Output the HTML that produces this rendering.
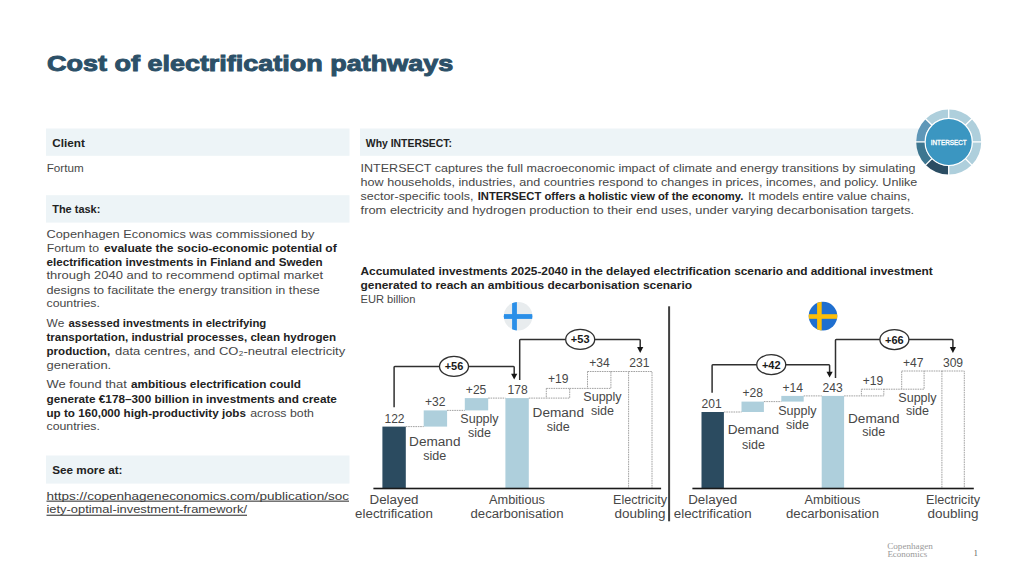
<!DOCTYPE html>
<html><head><meta charset="utf-8"><title>Cost of electrification pathways</title>
<style>html,body{margin:0;padding:0;background:#fff;width:1024px;height:576px;overflow:hidden}svg{display:block}text{font-family:"Liberation Sans", sans-serif}</style>
</head><body>
<svg width="1024" height="576" viewBox="0 0 1024 576">
<text x="47.0" y="70.6" font-size="22" font-weight="700" fill="#2c5068" stroke="#2c5068" stroke-width="0.95" textLength="406.2" lengthAdjust="spacingAndGlyphs">Cost of electrification pathways</text>
<rect x="46" y="128.5" width="303.5" height="27.3" fill="#edf4f7"/>
<rect x="46" y="195.2" width="303.5" height="27.4" fill="#edf4f7"/>
<rect x="46" y="455.5" width="303.5" height="28.1" fill="#edf4f7"/>
<rect x="360" y="128.5" width="580" height="27.3" fill="#edf4f7"/>
<text x="52.3" y="146.9" font-size="11.3" fill="#474747" textLength="32.5" lengthAdjust="spacingAndGlyphs"><tspan font-weight="700" fill="#222222">Client</tspan></text>
<text x="52.2" y="213.4" font-size="11.3" fill="#474747" textLength="48.2" lengthAdjust="spacingAndGlyphs"><tspan font-weight="700" fill="#222222">The task:</tspan></text>
<text x="52.2" y="474.2" font-size="11.3" fill="#474747" textLength="70.3" lengthAdjust="spacingAndGlyphs"><tspan font-weight="700" fill="#222222">See more at:</tspan></text>
<text x="365.8" y="146.9" font-size="11.3" fill="#474747" textLength="86.2" lengthAdjust="spacingAndGlyphs"><tspan font-weight="700" fill="#222222">Why INTERSECT:</tspan></text>
<text x="46.7" y="172" font-size="11" fill="#474747" textLength="37.0" lengthAdjust="spacingAndGlyphs"><tspan>Fortum</tspan></text>
<text x="46.5" y="237.7" font-size="11" fill="#474747" textLength="267.9" lengthAdjust="spacingAndGlyphs"><tspan>Copenhagen Economics was commissioned by</tspan></text>
<text x="46.7" y="251.6" font-size="11" fill="#474747" textLength="52.4" lengthAdjust="spacingAndGlyphs">Fortum to</text>
<text x="104.0" y="251.6" font-size="11" font-weight="700" fill="#222222" textLength="232.7" lengthAdjust="spacingAndGlyphs">evaluate the socio-economic potential of</text>
<text x="46.5" y="265.5" font-size="11" fill="#474747" textLength="276.2" lengthAdjust="spacingAndGlyphs"><tspan font-weight="700" fill="#222222">electrification investments in Finland and Sweden</tspan></text>
<text x="46.5" y="279.4" font-size="11" fill="#474747" textLength="276.5" lengthAdjust="spacingAndGlyphs"><tspan>through 2040 and to recommend optimal market</tspan></text>
<text x="46.5" y="293.5" font-size="11" fill="#474747" textLength="273.3" lengthAdjust="spacingAndGlyphs"><tspan>designs to facilitate the energy transition in these</tspan></text>
<text x="46.5" y="307.4" font-size="11" fill="#474747" textLength="53.4" lengthAdjust="spacingAndGlyphs"><tspan>countries.</tspan></text>
<text x="46.6" y="327.2" font-size="11" fill="#474747" textLength="17.7" lengthAdjust="spacingAndGlyphs">We</text>
<text x="68.5" y="327.2" font-size="11" font-weight="700" fill="#222222" textLength="197.8" lengthAdjust="spacingAndGlyphs">assessed investments in electrifying</text>
<text x="46.5" y="341.1" font-size="11" fill="#474747" textLength="289.5" lengthAdjust="spacingAndGlyphs"><tspan font-weight="700" fill="#222222">transportation, industrial processes, clean hydrogen</tspan></text>
<text x="46.5" y="354.7" font-size="11" font-weight="700" fill="#222222" textLength="63.6" lengthAdjust="spacingAndGlyphs">production,</text>
<text x="115.0" y="354.7" font-size="11" fill="#474747" textLength="230.2" lengthAdjust="spacingAndGlyphs">data centres, and CO₂-neutral electricity</text>
<text x="46.5" y="368.9" font-size="11" fill="#474747" textLength="64.7" lengthAdjust="spacingAndGlyphs"><tspan>generation.</tspan></text>
<text x="46.6" y="388.2" font-size="11" fill="#474747" textLength="80.2" lengthAdjust="spacingAndGlyphs">We found that</text>
<text x="131.0" y="388.2" font-size="11" font-weight="700" fill="#222222" textLength="170.0" lengthAdjust="spacingAndGlyphs">ambitious electrification could</text>
<text x="46.5" y="402.6" font-size="11" fill="#474747" textLength="290.4" lengthAdjust="spacingAndGlyphs"><tspan font-weight="700" fill="#222222">generate €178–300 billion in investments and create</tspan></text>
<text x="46.5" y="416.5" font-size="11" font-weight="700" fill="#222222" textLength="199.4" lengthAdjust="spacingAndGlyphs">up to 160,000 high-productivity jobs</text>
<text x="250.2" y="416.5" font-size="11" fill="#474747" textLength="63.8" lengthAdjust="spacingAndGlyphs">across both</text>
<text x="46.5" y="430.4" font-size="11" fill="#474747" textLength="53.4" lengthAdjust="spacingAndGlyphs"><tspan>countries.</tspan></text>
<text x="46.5" y="499.7" font-size="11" fill="#3c3c3c" textLength="302.5" lengthAdjust="spacingAndGlyphs"><tspan>https://copenhageneconomics.com/publication/soc</tspan></text>
<text x="46.5" y="513.4" font-size="11" fill="#3c3c3c" textLength="200.5" lengthAdjust="spacingAndGlyphs"><tspan>iety-optimal-investment-framework/</tspan></text>
<rect x="46.5" y="500.6" width="302.5" height="1.1" fill="#3a3a3a"/>
<rect x="46.5" y="514.7" width="200.5" height="1.1" fill="#3a3a3a"/>
<text x="360.6" y="172.2" font-size="11" fill="#474747" textLength="554.8" lengthAdjust="spacingAndGlyphs"><tspan>INTERSECT captures the full macroeconomic impact of climate and energy transitions by simulating</tspan></text>
<text x="360.6" y="186.25" font-size="11" fill="#474747" textLength="556.7" lengthAdjust="spacingAndGlyphs"><tspan>how households, industries, and countries respond to changes in prices, incomes, and policy. Unlike</tspan></text>
<text x="360.6" y="200.3" font-size="11" fill="#474747" textLength="112.8" lengthAdjust="spacingAndGlyphs">sector-specific tools,</text>
<text x="477.7" y="200.3" font-size="11" font-weight="700" fill="#222222" textLength="265.6" lengthAdjust="spacingAndGlyphs">INTERSECT offers a holistic view of the economy.</text>
<text x="748.0" y="200.3" font-size="11" fill="#474747" textLength="162.2" lengthAdjust="spacingAndGlyphs">It models entire value chains,</text>
<text x="360.6" y="214.2" font-size="11" fill="#474747" textLength="553.6" lengthAdjust="spacingAndGlyphs"><tspan>from electricity and hydrogen production to their end uses, under varying decarbonisation targets.</tspan></text>
<text x="360.5" y="274.5" font-size="11" fill="#474747" textLength="572.3" lengthAdjust="spacingAndGlyphs"><tspan font-weight="700" fill="#222222">Accumulated investments 2025-2040 in the delayed electrification scenario and additional investment</tspan></text>
<text x="360.5" y="288.6" font-size="11" fill="#474747" textLength="331.5" lengthAdjust="spacingAndGlyphs"><tspan font-weight="700" fill="#222222">generated to reach an ambitious decarbonisation scenario</tspan></text>
<text x="360.5" y="302.5" font-size="11" fill="#474747" textLength="55.0" lengthAdjust="spacingAndGlyphs"><tspan>EUR billion</tspan></text>
<path d="M948.70,109.40 A32.5,32.5 0 0 1 971.68,118.92 L965.53,125.07 A23.8,23.8 0 0 0 948.70,118.10 Z" fill="#aecfdc"/>
<path d="M971.68,118.92 A32.5,32.5 0 0 1 981.20,141.90 L972.50,141.90 A23.8,23.8 0 0 0 965.53,125.07 Z" fill="#aecfdc"/>
<path d="M981.20,141.90 A32.5,32.5 0 0 1 971.68,164.88 L965.53,158.73 A23.8,23.8 0 0 0 972.50,141.90 Z" fill="#aecfdc"/>
<path d="M971.68,164.88 A32.5,32.5 0 0 1 948.70,174.40 L948.70,165.70 A23.8,23.8 0 0 0 965.53,158.73 Z" fill="#aecfdc"/>
<path d="M948.70,174.40 A32.5,32.5 0 0 1 925.72,164.88 L931.87,158.73 A23.8,23.8 0 0 0 948.70,165.70 Z" fill="#2b4d63"/>
<path d="M925.72,164.88 A32.5,32.5 0 0 1 916.20,141.90 L924.90,141.90 A23.8,23.8 0 0 0 931.87,158.73 Z" fill="#3d7690"/>
<path d="M916.20,141.90 A32.5,32.5 0 0 1 925.72,118.92 L931.87,125.07 A23.8,23.8 0 0 0 924.90,141.90 Z" fill="#5f97b8"/>
<path d="M925.72,118.92 A32.5,32.5 0 0 1 948.70,109.40 L948.70,118.10 A23.8,23.8 0 0 0 931.87,125.07 Z" fill="#aecfdc"/>
<line x1="948.70" y1="118.10" x2="948.70" y2="108.40" stroke="#fff" stroke-width="1.3"/>
<line x1="965.53" y1="125.07" x2="972.39" y2="118.21" stroke="#fff" stroke-width="1.3"/>
<line x1="972.50" y1="141.90" x2="982.20" y2="141.90" stroke="#fff" stroke-width="1.3"/>
<line x1="965.53" y1="158.73" x2="972.39" y2="165.59" stroke="#fff" stroke-width="1.3"/>
<line x1="948.70" y1="165.70" x2="948.70" y2="175.40" stroke="#fff" stroke-width="1.3"/>
<line x1="931.87" y1="158.73" x2="925.01" y2="165.59" stroke="#fff" stroke-width="1.3"/>
<line x1="924.90" y1="141.90" x2="915.20" y2="141.90" stroke="#fff" stroke-width="1.3"/>
<line x1="931.87" y1="125.07" x2="925.01" y2="118.21" stroke="#fff" stroke-width="1.3"/>
<circle cx="948.7" cy="141.9" r="23.6" fill="#3b96c1" stroke="#fff" stroke-width="1.2"/>
<text x="948.7" y="144.5" font-size="7.4" fill="#fff" stroke="#fff" stroke-width="0.35" text-anchor="middle" textLength="36" lengthAdjust="spacingAndGlyphs">INTERSECT</text>
<rect x="382.40" y="426.60" width="23.40" height="61.90" fill="#2b4b60"/>
<rect x="423.70" y="410.40" width="23.40" height="16.20" fill="#aecfdc"/>
<rect x="464.80" y="398.10" width="23.40" height="12.30" fill="#aecfdc"/>
<rect x="505.40" y="398.10" width="23.40" height="90.40" fill="#aecfdc"/>
<line x1="405.80" y1="426.60" x2="423.70" y2="426.60" stroke="#8a8a8a" stroke-width="0.8" stroke-dasharray="1.6,0.8"/>
<line x1="447.10" y1="410.40" x2="464.80" y2="410.40" stroke="#8a8a8a" stroke-width="0.8" stroke-dasharray="1.6,0.8"/>
<line x1="488.20" y1="398.10" x2="505.40" y2="398.10" stroke="#8a8a8a" stroke-width="0.8" stroke-dasharray="1.6,0.8"/>
<rect x="546.30" y="388.40" width="23.40" height="9.70" fill="none" stroke="#8a8a8a" stroke-width="0.8" stroke-dasharray="1.6,0.8"/>
<line x1="528.80" y1="398.10" x2="546.30" y2="398.10" stroke="#8a8a8a" stroke-width="0.8" stroke-dasharray="1.6,0.8"/>
<line x1="569.70" y1="388.40" x2="587.50" y2="388.40" stroke="#8a8a8a" stroke-width="0.8" stroke-dasharray="1.6,0.8"/>
<rect x="587.50" y="371.50" width="23.40" height="16.90" fill="none" stroke="#8a8a8a" stroke-width="0.8" stroke-dasharray="1.6,0.8"/>
<line x1="610.90" y1="371.50" x2="628.60" y2="371.50" stroke="#8a8a8a" stroke-width="0.8" stroke-dasharray="1.6,0.8"/>
<rect x="628.60" y="371.50" width="23.40" height="117.00" fill="none" stroke="#8a8a8a" stroke-width="0.8" stroke-dasharray="1.6,0.8"/>
<rect x="373.4" y="487.7" width="287.7" height="1.6" fill="#1a1a1a"/>
<text x="394.5" y="422.5" font-size="12.1" fill="#474747" text-anchor="middle">122</text>
<text x="435.2" y="406.1" font-size="12.1" fill="#474747" text-anchor="middle">+32</text>
<text x="476.1" y="393.9" font-size="12.1" fill="#474747" text-anchor="middle">+25</text>
<text x="517.6" y="393.9" font-size="12.1" fill="#474747" text-anchor="middle">178</text>
<text x="558.3" y="382.8" font-size="12.1" fill="#474747" text-anchor="middle">+19</text>
<text x="599.4" y="366.9" font-size="12.1" fill="#474747" text-anchor="middle">+34</text>
<text x="639.3" y="366.9" font-size="12.1" fill="#474747" text-anchor="middle">231</text>
<text x="434.8" y="445.9" font-size="12" fill="#474747" text-anchor="middle" textLength="51.4" lengthAdjust="spacingAndGlyphs">Demand</text>
<text x="434.8" y="459.5" font-size="12" fill="#474747" text-anchor="middle" textLength="23.0" lengthAdjust="spacingAndGlyphs">side</text>
<text x="479.5" y="423.3" font-size="12" fill="#474747" text-anchor="middle" textLength="38.3" lengthAdjust="spacingAndGlyphs">Supply</text>
<text x="479.5" y="436.9" font-size="12" fill="#474747" text-anchor="middle" textLength="23.0" lengthAdjust="spacingAndGlyphs">side</text>
<text x="558.3" y="417.2" font-size="12" fill="#474747" text-anchor="middle" textLength="51.4" lengthAdjust="spacingAndGlyphs">Demand</text>
<text x="558.3" y="431.1" font-size="12" fill="#474747" text-anchor="middle" textLength="23.0" lengthAdjust="spacingAndGlyphs">side</text>
<text x="602.5" y="400.8" font-size="12" fill="#474747" text-anchor="middle" textLength="38.3" lengthAdjust="spacingAndGlyphs">Supply</text>
<text x="602.5" y="414.6" font-size="12" fill="#474747" text-anchor="middle" textLength="23.0" lengthAdjust="spacingAndGlyphs">side</text>
<text x="394.0" y="503.8" font-size="12" fill="#474747" text-anchor="middle" textLength="49.0" lengthAdjust="spacingAndGlyphs">Delayed</text>
<text x="394.0" y="517.9" font-size="12" fill="#474747" text-anchor="middle" textLength="77.8" lengthAdjust="spacingAndGlyphs">electrification</text>
<text x="517.0" y="503.8" font-size="12" fill="#474747" text-anchor="middle" textLength="56.0" lengthAdjust="spacingAndGlyphs">Ambitious</text>
<text x="517.0" y="517.9" font-size="12" fill="#474747" text-anchor="middle" textLength="93.0" lengthAdjust="spacingAndGlyphs">decarbonisation</text>
<text x="640.0" y="503.8" font-size="12" fill="#474747" text-anchor="middle" textLength="54.0" lengthAdjust="spacingAndGlyphs">Electricity</text>
<text x="640.0" y="517.9" font-size="12" fill="#474747" text-anchor="middle" textLength="51.0" lengthAdjust="spacingAndGlyphs">doubling</text>
<path d="M394.1,407.3 L394.1,367.25 Q394.1,366.45 394.90000000000003,366.45 L513.4000000000001,366.45 Q514.2,366.45 514.2,367.25 L514.2,374.6" fill="none" stroke="#303030" stroke-width="1.5"/>
<path d="M511.1,373.8 L517.3000000000001,373.8 L514.2,379.6 Z" fill="#151515"/>
<ellipse cx="454.0" cy="366.45" rx="14.5" ry="10" fill="#fff" stroke="#303030" stroke-width="1.3"/>
<text x="454.0" y="370.45" font-size="11" font-weight="700" fill="#1a1a1a" text-anchor="middle">+56</text>
<path d="M519.7,380.0 L519.7,340.2 Q519.7,339.4 520.5,339.4 L639.4000000000001,339.4 Q640.2,339.4 640.2,340.2 L640.2,347.9" fill="none" stroke="#303030" stroke-width="1.5"/>
<path d="M637.1,347.09999999999997 L643.3000000000001,347.09999999999997 L640.2,352.9 Z" fill="#151515"/>
<ellipse cx="580.2" cy="339.4" rx="14.5" ry="10" fill="#fff" stroke="#303030" stroke-width="1.3"/>
<text x="580.2" y="343.4" font-size="11" font-weight="700" fill="#1a1a1a" text-anchor="middle">+53</text>
<rect x="668.10" y="306.30" width="2.00" height="215.00" fill="#404040"/>
<rect x="701.50" y="412.00" width="22.40" height="76.50" fill="#2b4b60"/>
<rect x="741.50" y="401.60" width="22.40" height="10.40" fill="#aecfdc"/>
<rect x="781.30" y="395.90" width="22.40" height="5.70" fill="#aecfdc"/>
<rect x="821.70" y="395.90" width="22.40" height="92.60" fill="#aecfdc"/>
<line x1="723.90" y1="412.00" x2="741.50" y2="412.00" stroke="#8a8a8a" stroke-width="0.8" stroke-dasharray="1.6,0.8"/>
<line x1="763.90" y1="401.60" x2="781.30" y2="401.60" stroke="#8a8a8a" stroke-width="0.8" stroke-dasharray="1.6,0.8"/>
<line x1="803.70" y1="395.90" x2="821.70" y2="395.90" stroke="#8a8a8a" stroke-width="0.8" stroke-dasharray="1.6,0.8"/>
<rect x="861.40" y="389.20" width="22.40" height="6.70" fill="none" stroke="#8a8a8a" stroke-width="0.8" stroke-dasharray="1.6,0.8"/>
<line x1="844.10" y1="395.90" x2="861.40" y2="395.90" stroke="#8a8a8a" stroke-width="0.8" stroke-dasharray="1.6,0.8"/>
<line x1="883.80" y1="389.20" x2="901.70" y2="389.20" stroke="#8a8a8a" stroke-width="0.8" stroke-dasharray="1.6,0.8"/>
<rect x="901.70" y="371.00" width="22.40" height="18.20" fill="none" stroke="#8a8a8a" stroke-width="0.8" stroke-dasharray="1.6,0.8"/>
<line x1="924.10" y1="371.00" x2="941.90" y2="371.00" stroke="#8a8a8a" stroke-width="0.8" stroke-dasharray="1.6,0.8"/>
<rect x="941.90" y="371.00" width="22.40" height="117.50" fill="none" stroke="#8a8a8a" stroke-width="0.8" stroke-dasharray="1.6,0.8"/>
<rect x="692.4" y="487.7" width="281.4" height="1.6" fill="#1a1a1a"/>
<text x="711.6" y="408.1" font-size="12.1" fill="#474747" text-anchor="middle">201</text>
<text x="752.7" y="397.3" font-size="12.1" fill="#474747" text-anchor="middle">+28</text>
<text x="792.8" y="392.0" font-size="12.1" fill="#474747" text-anchor="middle">+14</text>
<text x="832.7" y="392.1" font-size="12.1" fill="#474747" text-anchor="middle">243</text>
<text x="873.0" y="384.7" font-size="12.1" fill="#474747" text-anchor="middle">+19</text>
<text x="913.2" y="367.0" font-size="12.1" fill="#474747" text-anchor="middle">+47</text>
<text x="953.0" y="367.0" font-size="12.1" fill="#474747" text-anchor="middle">309</text>
<text x="753.4" y="434.2" font-size="12" fill="#474747" text-anchor="middle" textLength="51.4" lengthAdjust="spacingAndGlyphs">Demand</text>
<text x="753.4" y="448.5" font-size="12" fill="#474747" text-anchor="middle" textLength="23.0" lengthAdjust="spacingAndGlyphs">side</text>
<text x="797.4" y="415.0" font-size="12" fill="#474747" text-anchor="middle" textLength="38.3" lengthAdjust="spacingAndGlyphs">Supply</text>
<text x="797.4" y="428.6" font-size="12" fill="#474747" text-anchor="middle" textLength="23.0" lengthAdjust="spacingAndGlyphs">side</text>
<text x="873.75" y="422.6" font-size="12" fill="#474747" text-anchor="middle" textLength="51.4" lengthAdjust="spacingAndGlyphs">Demand</text>
<text x="873.75" y="436.2" font-size="12" fill="#474747" text-anchor="middle" textLength="23.0" lengthAdjust="spacingAndGlyphs">side</text>
<text x="917.5" y="401.5" font-size="12" fill="#474747" text-anchor="middle" textLength="38.3" lengthAdjust="spacingAndGlyphs">Supply</text>
<text x="917.5" y="415.2" font-size="12" fill="#474747" text-anchor="middle" textLength="23.0" lengthAdjust="spacingAndGlyphs">side</text>
<text x="712.7" y="503.8" font-size="12" fill="#474747" text-anchor="middle" textLength="49.0" lengthAdjust="spacingAndGlyphs">Delayed</text>
<text x="712.7" y="517.9" font-size="12" fill="#474747" text-anchor="middle" textLength="77.8" lengthAdjust="spacingAndGlyphs">electrification</text>
<text x="832.5" y="503.8" font-size="12" fill="#474747" text-anchor="middle" textLength="56.0" lengthAdjust="spacingAndGlyphs">Ambitious</text>
<text x="832.5" y="517.9" font-size="12" fill="#474747" text-anchor="middle" textLength="93.0" lengthAdjust="spacingAndGlyphs">decarbonisation</text>
<text x="953.0" y="503.8" font-size="12" fill="#474747" text-anchor="middle" textLength="54.0" lengthAdjust="spacingAndGlyphs">Electricity</text>
<text x="953.0" y="517.9" font-size="12" fill="#474747" text-anchor="middle" textLength="51.0" lengthAdjust="spacingAndGlyphs">doubling</text>
<path d="M712.1,392.7 L712.1,365.45 Q712.1,364.65 712.9,364.65 L828.8000000000001,364.65 Q829.6,364.65 829.6,365.45 L829.6,372.5" fill="none" stroke="#303030" stroke-width="1.5"/>
<path d="M826.5,371.7 L832.7,371.7 L829.6,377.5 Z" fill="#151515"/>
<ellipse cx="771.25" cy="364.65" rx="14.5" ry="10" fill="#fff" stroke="#303030" stroke-width="1.3"/>
<text x="771.25" y="368.65" font-size="11" font-weight="700" fill="#1a1a1a" text-anchor="middle">+42</text>
<path d="M835.5,378.0 L835.5,340.35 Q835.5,339.55 836.3,339.55 L952.1,339.55 Q952.9,339.55 952.9,340.35 L952.9,347.9" fill="none" stroke="#303030" stroke-width="1.5"/>
<path d="M949.8,347.09999999999997 L956.0,347.09999999999997 L952.9,352.9 Z" fill="#151515"/>
<ellipse cx="894.4" cy="339.55" rx="14.5" ry="10" fill="#fff" stroke="#303030" stroke-width="1.3"/>
<text x="894.4" y="343.55" font-size="11" font-weight="700" fill="#1a1a1a" text-anchor="middle">+66</text>
<circle cx="518.1" cy="316.2" r="14.3" fill="#e8ecee"/>
<clipPath id="fi"><circle cx="518.1" cy="316.2" r="14.3"/></clipPath>
<g clip-path="url(#fi)"><rect x="512.1" y="300" width="4.8" height="33" fill="#2a8fe8"/><rect x="502" y="314.1" width="32" height="4.8" fill="#2a8fe8"/></g>
<circle cx="823.0" cy="316.1" r="14.3" fill="#1f6fcf"/>
<clipPath id="se"><circle cx="823.0" cy="316.1" r="14.3"/></clipPath>
<g clip-path="url(#se)"><rect x="817.1" y="300" width="4.6" height="33" fill="#fbbd08"/><rect x="807" y="314.2" width="32" height="4.6" fill="#fbbd08"/></g>
<text x="887.2" y="549" style="font-family:'Liberation Serif', serif" font-size="8.4" fill="#9a9a9a" textLength="45.7" lengthAdjust="spacingAndGlyphs">Copenhagen</text>
<text x="887.4" y="557.3" style="font-family:'Liberation Serif', serif" font-size="8.4" fill="#9a9a9a" textLength="39.9" lengthAdjust="spacingAndGlyphs">Economics</text>
<text x="975.8" y="556" style="font-family:'Liberation Serif', serif" font-size="8" fill="#555" text-anchor="middle">1</text>
</svg>
</body></html>
